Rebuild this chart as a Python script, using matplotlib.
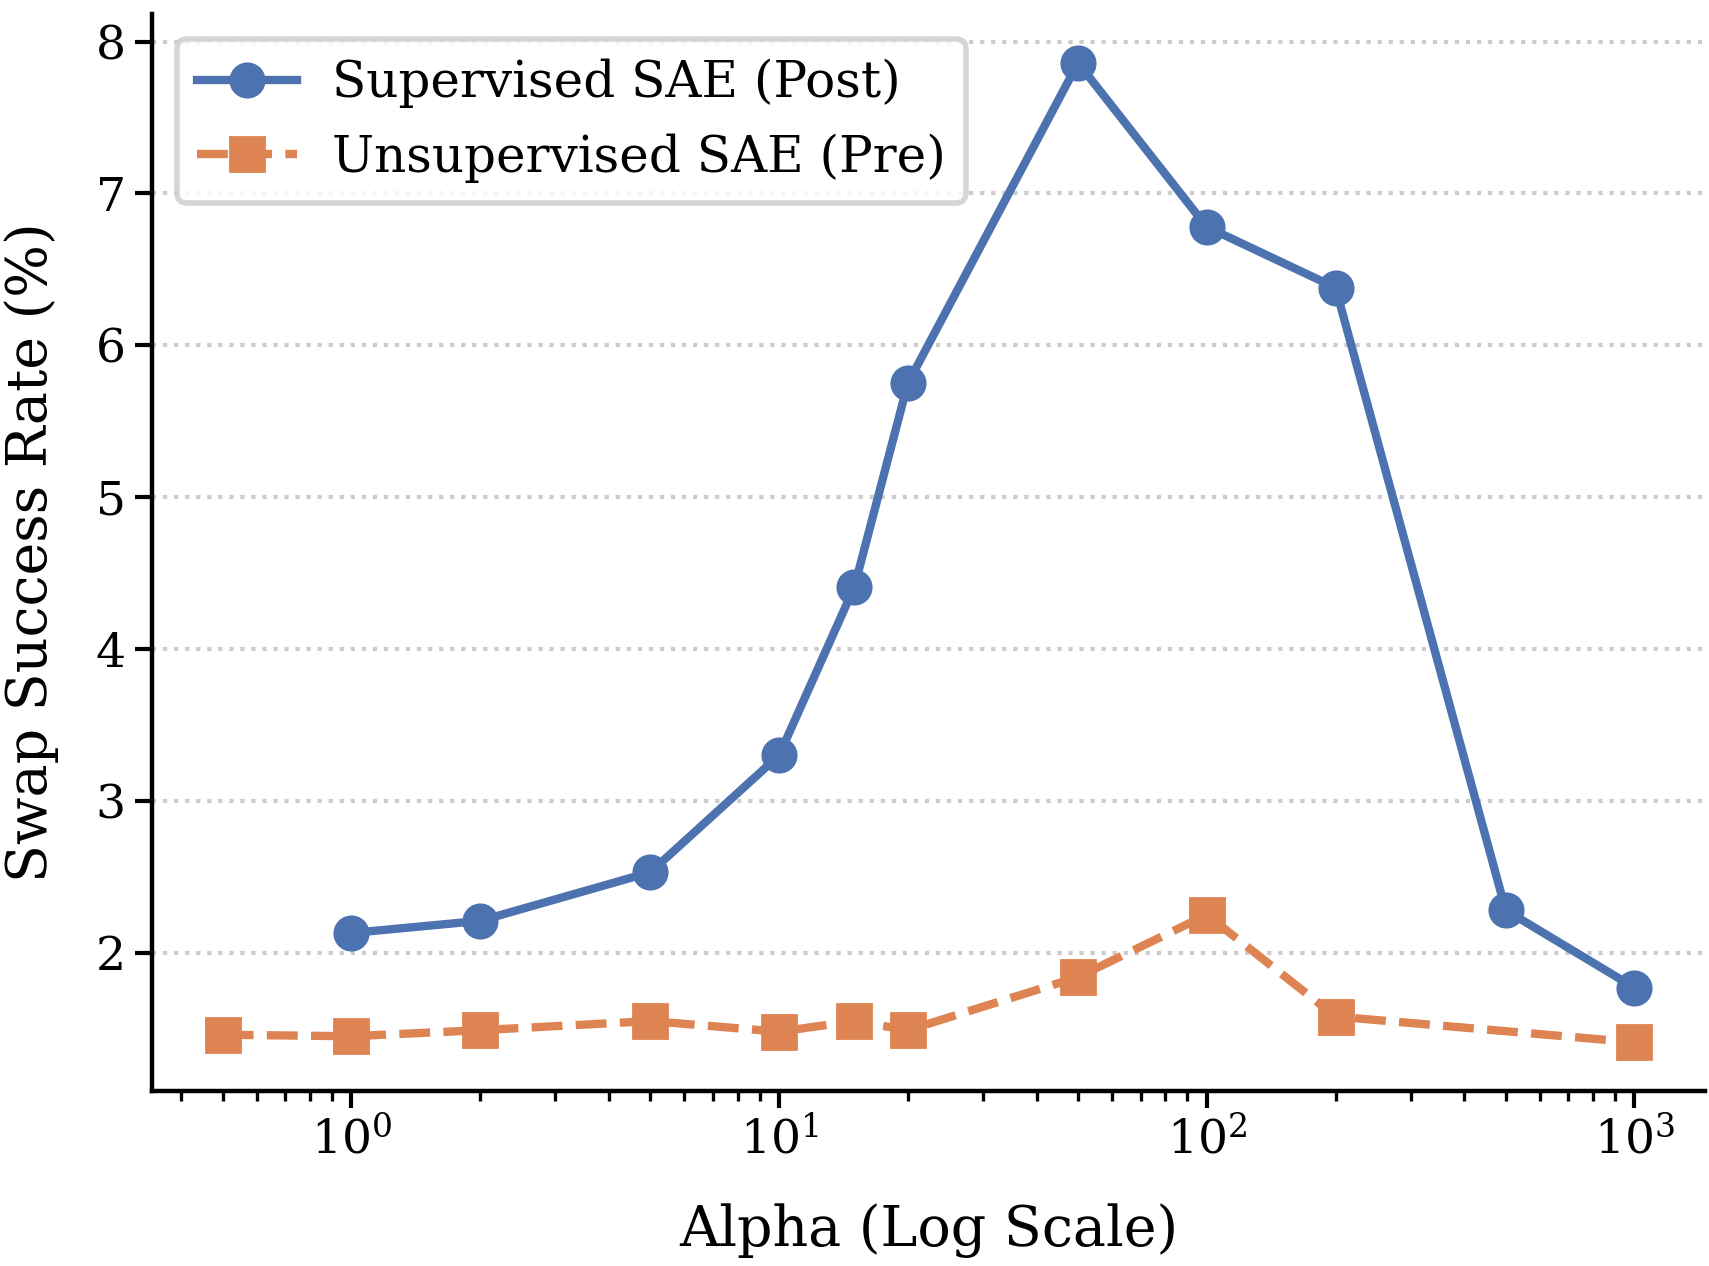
import matplotlib
matplotlib.use("Agg")
import matplotlib.pyplot as plt

# values
alpha_sup = [1, 2, 5, 10, 15, 20, 50, 100, 200, 500, 1000]
rate_sup = [2.13, 2.21, 2.53, 3.30, 4.41, 5.75, 7.86, 6.78, 6.38, 2.28, 1.77]

alpha_unsup = [0.5, 1, 2, 5, 10, 15, 20, 50, 100, 200, 1000]
rate_unsup = [1.46, 1.45, 1.49, 1.55, 1.48, 1.55, 1.49, 1.84, 2.25, 1.58, 1.41]

label_sup = "Supervised SAE (Post)"
label_unsup = "Unsupervised SAE (Pre)"

plt.rcParams["font.family"] = ["DejaVu Serif"]
plt.rcParams["mathtext.fontset"] = "dejavusans"

fig, ax = plt.subplots(figsize=(8.545, 6.33), dpi=200)
fig.subplots_adjust(left=0.089, right=0.9977, bottom=0.138, top=0.989)

ax.plot(alpha_sup, rate_sup, "-o", color="#4C72B0", lw=3, ms=12,
        label=label_sup)
ax.plot(alpha_unsup, rate_unsup, "--s", color="#DD8452", lw=3, ms=12,
        label=label_unsup)

ax.set_xscale("log")
ax.set_xlabel("Alpha (Log Scale)", fontsize=20, labelpad=14)
ax.set_ylabel("Swap Success Rate (%)", fontsize=20, labelpad=13)
ax.tick_params(axis="both", which="major", labelsize=17, length=6, width=1.5)
ax.tick_params(axis="x", which="minor", length=3.5, width=1.2)

ax.grid(axis="y", linestyle=":", color="#cccccc", linewidth=1.5)
ax.set_axisbelow(True)
for side in ["top", "right"]:
    ax.spines[side].set_visible(False)
for side in ["left", "bottom"]:
    ax.spines[side].set_linewidth(1.6)

leg = ax.legend(loc="upper left", fontsize=18, frameon=True, fancybox=True,
                handlelength=2.0, handletextpad=0.7)
leg.get_frame().set_edgecolor("#cccccc")
leg.get_frame().set_linewidth(2)

fig.savefig("out.png", dpi=200)
